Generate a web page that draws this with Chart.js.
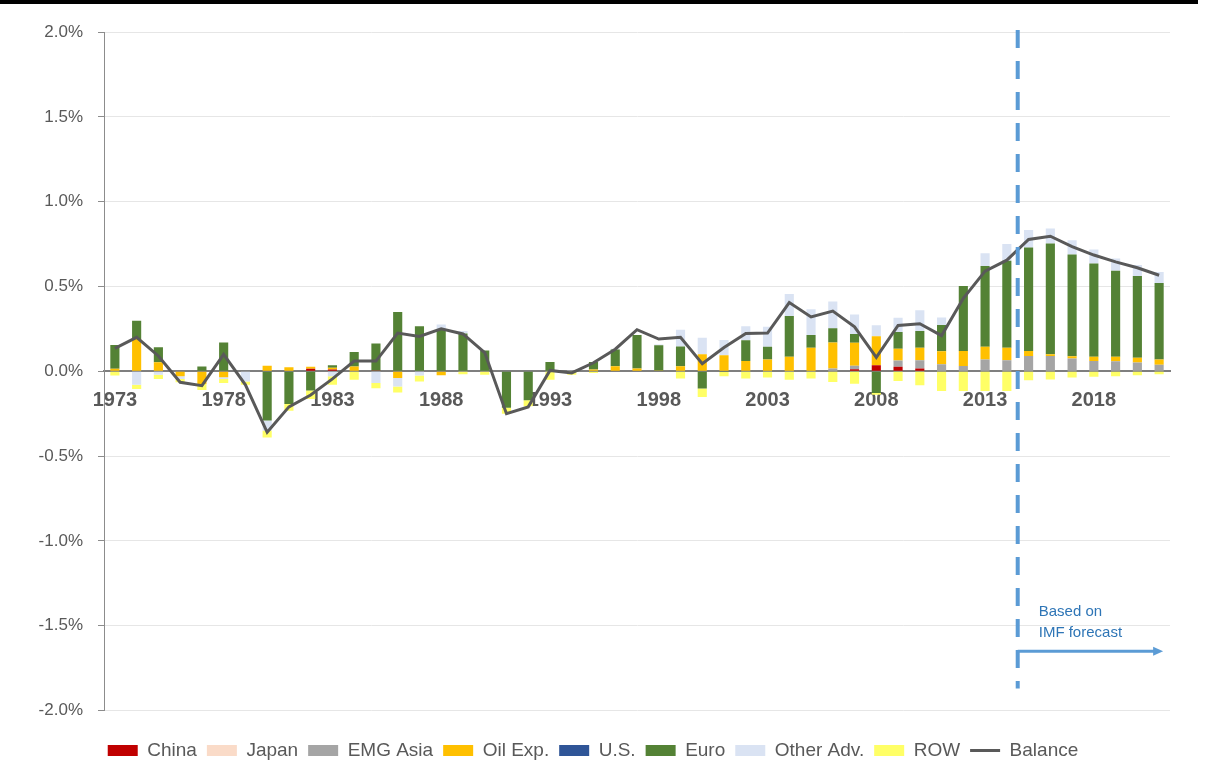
<!DOCTYPE html>
<html>
<head>
<meta charset="utf-8">
<script src="https://cdn.jsdelivr.net/npm/chart.js@4.4.1/dist/chart.umd.min.js"></script>
<style>
  body { margin: 0; background: #fff; }
  #topbar { position: absolute; left: 0; top: 0; width: 1198px; height: 4px; background: #000; }
  canvas { position: absolute; left: 0; top: 0; }
</style>
</head>
<body>
<div id="topbar"></div>
<canvas id="myChart" width="1224" height="774"></canvas>
<script>
// years 1973 - 2021
const years = [
  "1973", "1974", "1975", "1976", "1977", "1978", "1979",
  "1980", "1981", "1982", "1983", "1984", "1985", "1986", "1987", "1988", "1989",
  "1990", "1991", "1992", "1993", "1994", "1995", "1996", "1997", "1998", "1999",
  "2000", "2001", "2002", "2003", "2004", "2005", "2006", "2007", "2008", "2009",
  "2010", "2011", "2012", "2013", "2014", "2015", "2016", "2017", "2018", "2019", "2020", "2021",
];
const shownYears = ["1973", "1978", "1983", "1988", "1993", "1998", "2003", "2008", "2013", "2018"];
const yTicks = [-2.0, -1.5, -1.0, -0.5, 0.0, 0.5, 1.0, 1.5, 2.0];

// contributions, in % (rows: 73-79, 80s, 90s, 00s, 10-21)
const china = [
  0, 0, 0, 0, 0, 0, 0,
  0, 0, 0.015, 0.01, 0, 0.005, 0, 0, 0, 0,
  0, 0, 0, 0, 0, 0, 0, 0, 0, 0,
  0, 0, 0, 0, 0, 0, 0, 0.012, 0.035, 0.026,
  0.016, 0, 0, 0, 0, 0, 0, 0, 0, 0, 0, 0,
];
const japan = [
  0, 0, 0, 0, 0, 0, 0,
  0, 0, 0, 0, 0, 0, 0, 0, 0, 0,
  0, 0, 0, 0, 0, 0, 0, 0, 0, 0,
  0, 0, 0, 0, 0, 0, 0, 0, 0, 0,
  0, 0, 0, 0, 0, 0, 0, 0, 0, 0, 0, 0,
];
const emgAsia = [
  0, 0, 0, 0, 0, 0, 0,
  0, 0, 0, 0, 0, 0, 0, 0, 0, 0,
  0, 0, 0, 0, 0, 0, 0, 0, 0, 0,
  0, 0, 0, 0, 0, 0, 0.016, 0.02, 0, 0.037,
  0.049, 0.041, 0.031, 0.069, 0.065, 0.09, 0.09, 0.075, 0.061, 0.059, 0.051, 0.039,
];
const oilExp = [
  0.015, 0.19, 0.053, -0.03, -0.075, -0.035, 0,
  0.033, 0.024, 0.012, 0.01, 0.028, 0, -0.04, 0, -0.024, 0,
  0, 0, 0, 0, 0, 0.01, 0.03, 0.016, 0.005, 0.03,
  0.1, 0.095, 0.061, 0.069, 0.085, 0.138, 0.154, 0.136, 0.171, 0.069,
  0.073, 0.077, 0.089, 0.075, 0.073, 0.03, 0.01, 0.014, 0.024, 0.026, 0.028, 0.031,
];
const us = [
  0, 0, 0, 0, 0, 0, 0,
  0, 0, 0, 0, 0, 0, 0, 0, 0, 0,
  0, 0, 0, 0, 0, 0, 0, 0, 0, 0,
  0, 0, 0, 0, 0, 0, 0, 0, 0, 0,
  0, 0, 0, 0, 0, 0, 0, 0, 0, 0, 0, 0,
];
const euro = [
  0.14, 0.108, 0.089, 0, 0.028, 0.17, 0,
  -0.29, -0.193, -0.114, 0.016, 0.085, 0.158, 0.35, 0.265, 0.246, 0.222,
  0.122, -0.215, -0.171, 0.055, 0, 0.045, 0.098, 0.197, 0.148, 0.116,
  -0.102, -0.005, 0.122, 0.075, 0.24, 0.075, 0.083, 0.051, -0.128, 0.1,
  0.1, 0.154, 0.382, 0.476, 0.514, 0.61, 0.653, 0.6, 0.55, 0.507, 0.482, 0.45,
];
const otherAdv = [
  0, -0.079, -0.02, -0.015, 0, -0.01, -0.06,
  -0.06, 0, 0, -0.03, 0, -0.07, -0.05, -0.025, 0.03, 0.016,
  0, 0, 0, 0, 0.005, 0, 0.005, 0, 0.005, 0.098,
  0.098, 0.089, 0.083, 0.118, 0.13, 0.152, 0.158, 0.116, 0.065, 0.083,
  0.122, 0.045, 0, 0.075, 0.098, 0.102, 0.089, 0.083, 0.083, 0.073, 0.065, 0.065,
];
const row = [
  -0.025, -0.026, -0.025, -0.02, -0.035, -0.025, -0.02,
  -0.04, -0.04, -0.05, -0.05, -0.05, -0.03, -0.035, -0.035, 0, -0.018,
  -0.02, -0.035, -0.035, -0.05, -0.02, -0.01, 0, 0, 0, -0.043,
  -0.05, -0.024, -0.043, -0.037, -0.05, -0.043, -0.063, -0.073, -0.01, -0.057,
  -0.083, -0.116, -0.116, -0.116, -0.116, -0.053, -0.049, -0.037, -0.033, -0.03, -0.024, -0.018,
];
const balance = [
  0.135, 0.2, 0.09, -0.065, -0.085, 0.1, -0.08,
  -0.36, -0.21, -0.14, -0.045, 0.06, 0.06, 0.225, 0.205, 0.25, 0.22,
  0.11, -0.25, -0.21, 0.005, -0.01, 0.05, 0.13, 0.245, 0.19, 0.2,
  0.045, 0.14, 0.222, 0.225, 0.405, 0.32, 0.355, 0.262, 0.082, 0.27,
  0.28, 0.21, 0.43, 0.59, 0.655, 0.777, 0.796, 0.735, 0.685, 0.645, 0.61, 0.566,
];

const forecastStart = "2015";

Chart.defaults.font.family = "'Liberation Sans', Arial, sans-serif";
Chart.defaults.color = "#595959";

function barSet(label, data, color) {
  return {
    type: "bar",
    label: label,
    data: data,
    backgroundColor: color,
    borderWidth: 0,
    barPercentage: 0.42,
    categoryPercentage: 1,
    order: 1,
  };
}

// dashed forecast line, arrow and note
const forecastPlugin = {
  id: "forecast",
  afterDatasetsDraw(chart) {
    const { ctx, scales: { x, y } } = chart;
    const i = years.indexOf(forecastStart);
    const lineX = (x.getPixelForValue(i - 1) + x.getPixelForValue(i)) / 2;
    ctx.save();
    ctx.strokeStyle = "#5B9BD5";
    ctx.lineWidth = 4;
    ctx.setLineDash([18, 13]);
    ctx.beginPath();
    ctx.moveTo(lineX, chart.chartArea.top - 2);
    ctx.lineTo(lineX, y.getPixelForValue(-1.87));
    ctx.stroke();

    ctx.setLineDash([]);
    const ay = y.getPixelForValue(-1.65);
    const ax = x.getPixelForValue(years.length - 1) + 4;
    ctx.lineWidth = 3;
    ctx.beginPath();
    ctx.moveTo(lineX, ay);
    ctx.lineTo(ax - 6, ay);
    ctx.stroke();
    ctx.fillStyle = "#5B9BD5";
    ctx.beginPath();
    ctx.moveTo(ax, ay);
    ctx.lineTo(ax - 10, ay - 4.5);
    ctx.lineTo(ax - 10, ay + 4.5);
    ctx.closePath();
    ctx.fill();

    ctx.fillStyle = "#2E75B6";
    ctx.font = "15px 'Liberation Sans', Arial, sans-serif";
    ctx.textBaseline = "middle";
    ctx.fillText("Based on", lineX + 21, y.getPixelForValue(-1.42));
    ctx.fillText("IMF forecast", lineX + 21, y.getPixelForValue(-1.545));
    ctx.restore();
  },
};

var ctx = document.getElementById("myChart").getContext("2d");
var myChart = new Chart(ctx, {
  data: {
    labels: years,
    datasets: [
      barSet("China", china, "#C00000"),
      barSet("Japan", japan, "#FADBC8"),
      barSet("EMG Asia", emgAsia, "#A5A5A5"),
      barSet("Oil Exp.", oilExp, "#FFC000"),
      barSet("U.S.", us, "#2F5597"),
      barSet("Euro", euro, "#548235"),
      barSet("Other Adv.", otherAdv, "#DAE3F3"),
      barSet("ROW", row, "#FFFF66"),
      {
        type: "line",
        label: "Balance",
        data: balance,
        borderColor: "#595959",
        borderWidth: 3,
        pointRadius: 0,
        tension: 0,
        fill: false,
        order: 0,
      },
    ],
  },
  plugins: [forecastPlugin],
  options: {
    responsive: false,
    animation: false,
    layout: { padding: { left: 16, top: 32, right: 54, bottom: 4 } },
    scales: {
      x: {
        stacked: true,
        position: { y: 0 },
        z: 1,
        grid: { display: false, drawTicks: false },
        border: { color: "#7F7F7F", width: 2 },
        ticks: {
          autoSkip: false,
          maxRotation: 0,
          padding: 17,
          color: "#595959",
          font: { size: 20, weight: "bold" },
          callback: function (value) {
            const lbl = this.getLabelForValue(value);
            return shownYears.includes(lbl) ? lbl : "";
          },
        },
      },
      y: {
        stacked: true,
        min: yTicks[0],
        max: yTicks[yTicks.length - 1],
        afterFit: (scale) => {
          scale.width = 88;
        },
        afterBuildTicks: (scale) => {
          scale.ticks = yTicks.map((v) => ({ value: v }));
        },
        grid: { color: "#E6E6E6", tickColor: "#8C8C8C", tickLength: 6 },
        border: { color: "#8C8C8C", width: 1 },
        ticks: {
          padding: 15,
          color: "#595959",
          font: { size: 17 },
          callback: (v) => v.toFixed(1) + "%",
        },
      },
    },
    plugins: {
      tooltip: { enabled: false },
      legend: {
        position: "bottom",
        title: { display: true, text: "", padding: 0, font: { size: 11, lineHeight: "20.5px" } },
        labels: {
          usePointStyle: true,
          pointStyleWidth: 30,
          boxHeight: 11,
          padding: 10,
          color: "#595959",
          font: { size: 19 },
          generateLabels: (chart) => {
            const items = Chart.defaults.plugins.legend.labels.generateLabels(chart);
            items.forEach((it) => {
              const ds = chart.data.datasets[it.datasetIndex];
              if (ds.type === "line") {
                it.pointStyle = "line";
                it.lineWidth = 3;
                it.strokeStyle = "#595959";
              } else {
                it.pointStyle = "rect";
                it.lineWidth = 0;
              }
            });
            return items.sort((a, b) => a.datasetIndex - b.datasetIndex);
          },
        },
      },
    },
  },
});
</script>
</body>
</html>
